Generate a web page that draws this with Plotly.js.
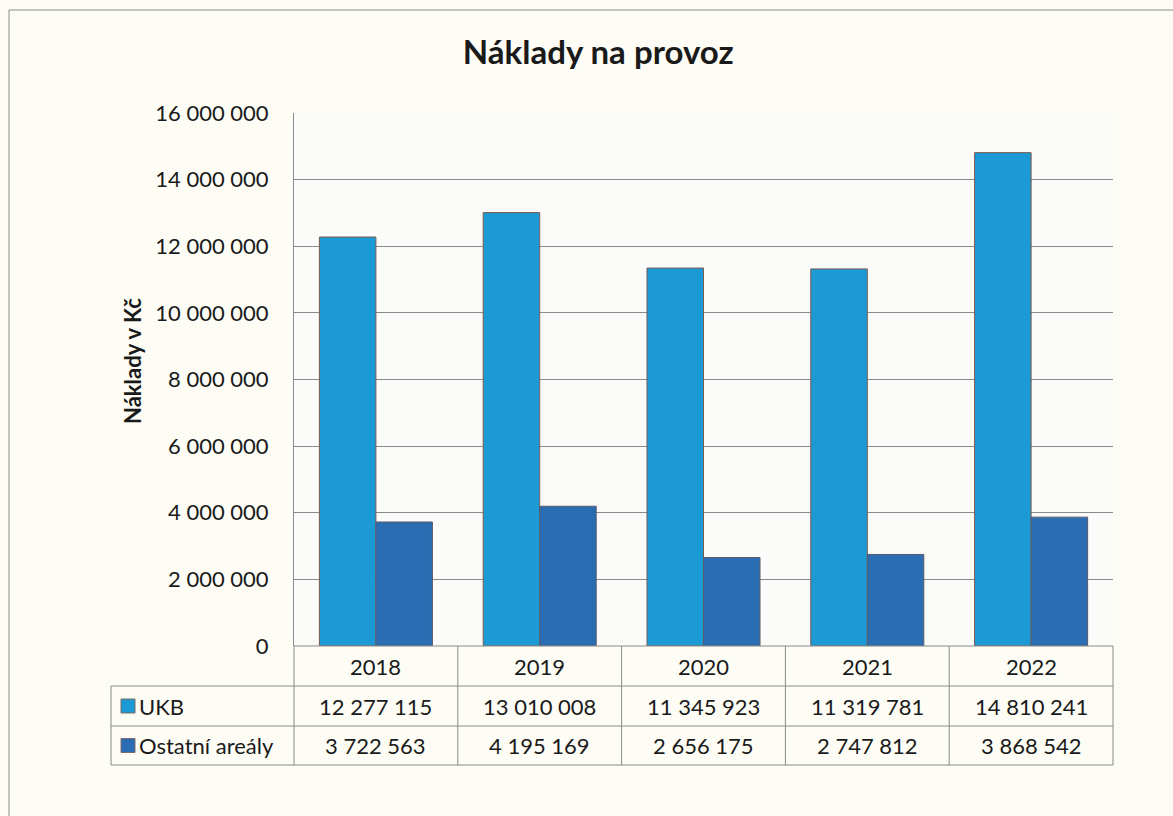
<!DOCTYPE html>
<html>
<head>
<meta charset="utf-8">
<script src="https://cdn.plot.ly/plotly-3.0.1.min.js"></script>
<style>html,body{margin:0;padding:0;background:#fdfdf6;}#chart{width:1173px;height:816px;}</style>
</head>
<body>
<div id="chart"></div>
<script>
// ---- data ----
var years = ['2018', '2019', '2020', '2021', '2022'];
var ukbValues = [12277115, 13010008, 11345923, 11319781, 14810241];
var ostatniValues = [3722563, 4195169, 2656175, 2747812, 3868542];
var seriesNames = ['UKB', 'Ostatní areály'];
var yTicks = [0, 2000000, 4000000, 6000000, 8000000, 10000000, 12000000, 14000000, 16000000];

// ---- style ----
var colUKB = '#1b9ad6';
var colOst = '#2a6db2';
var gridCol = '#8a8a8a';
var FONT = 'Lato, "Open Sans", sans-serif';

function fmt(n) {
  return String(n).replace(/\B(?=(\d{3})+(?!\d))/g, ' ');
}

// layout geometry (pixels)
var W = 1173, H = 816;
var L = 294, R = 1113, T = 113, B = 646;
var pw = R - L, ph = B - T;
function px(x) { return (x - L) / pw; }
function py(y) { return (B - y) / ph; }

var traces = [
  {type: 'bar', x: years, y: ukbValues, name: seriesNames[0],
   marker: {color: colUKB, line: {color: '#7d5a4e', width: 1}}},
  {type: 'bar', x: years, y: ostatniValues, name: seriesNames[1],
   marker: {color: colOst, line: {color: '#5a5a6a', width: 1}}}
];

var shapes = [];
var annotations = [];
var lineStyle = {color: gridCol, width: 1};

// outer frame
shapes.push({type: 'line', xref: 'paper', yref: 'paper', x0: px(9), x1: px(1173), y0: py(10), y1: py(10), line: lineStyle});
shapes.push({type: 'line', xref: 'paper', yref: 'paper', x0: px(9), x1: px(9), y0: py(10), y1: py(816), line: lineStyle});

// data table
var rowY = [646, 686, 726, 765];
shapes.push({type: 'line', xref: 'paper', yref: 'paper', x0: 0, x1: 1, y0: py(rowY[0]), y1: py(rowY[0]), line: lineStyle});
for (var r = 1; r < rowY.length; r++) {
  shapes.push({type: 'line', xref: 'paper', yref: 'paper', x0: px(111), x1: 1, y0: py(rowY[r]), y1: py(rowY[r]), line: lineStyle});
}
shapes.push({type: 'line', xref: 'paper', yref: 'paper', x0: px(111), x1: px(111), y0: py(rowY[1]), y1: py(rowY[3]), line: lineStyle});
for (var c = 0; c <= years.length; c++) {
  var xp = c / years.length;
  shapes.push({type: 'line', xref: 'paper', yref: 'paper', x0: xp, x1: xp, y0: py(rowY[0]), y1: py(rowY[3]), line: lineStyle});
}

var rowsVals = [ukbValues, ostatniValues];
var rowsCols = [colUKB, colOst];
var tf = {family: FONT, size: 22, color: '#1a1a1a'};
years.forEach(function (yr, i) {
  var xc = (i + 0.5) / years.length;
  annotations.push({xref: 'paper', yref: 'paper', x: xc, y: py((rowY[0] + rowY[1]) / 2), text: yr, showarrow: false, font: tf, xanchor: 'center', yanchor: 'middle'});
  rowsVals.forEach(function (vals, k) {
    annotations.push({xref: 'paper', yref: 'paper', x: xc, y: py((rowY[k + 1] + rowY[k + 2]) / 2), text: fmt(vals[i]), showarrow: false, font: tf, xanchor: 'center', yanchor: 'middle'});
  });
});
seriesNames.forEach(function (nm, k) {
  var cy = (rowY[k + 1] + rowY[k + 2]) / 2;
  shapes.push({type: 'rect', xref: 'paper', yref: 'paper', x0: px(121), x1: px(135), y0: py(cy - 7), y1: py(cy + 7), fillcolor: rowsCols[k], line: {color: '#7d6a6a', width: 1}});
  annotations.push({xref: 'paper', yref: 'paper', x: px(137), y: py(cy), text: nm, showarrow: false, font: tf, xanchor: 'left', yanchor: 'middle'});
});

// y axis title (placed as in the original, slightly above centre)
annotations.push({xref: 'paper', yref: 'paper', x: px(132), y: py(361), text: '<b>Náklady v Kč</b>', textangle: -90, showarrow: false,
                  font: {family: FONT, size: 22, color: '#1a1a1a'}, xanchor: 'center', yanchor: 'middle'});

var layout = {
  width: W, height: H,
  margin: {l: L, r: W - R, t: T, b: H - B, pad: 0},
  paper_bgcolor: '#fdfdf6',
  plot_bgcolor: '#fbfbf9',
  separators: ', ',
  showlegend: false,
  barmode: 'group',
  bargap: 0.31,
  bargroupgap: 0,
  title: {text: '<b>Náklady na provoz</b>', font: {family: FONT, size: 33, color: '#1a1a1a'}, x: 0.51, xanchor: 'center', y: 1 - 52 / H, yanchor: 'middle'},
  xaxis: {type: 'category', range: [-0.5, years.length - 0.5], showticklabels: false, ticks: '', showgrid: false, zeroline: false, showline: false, fixedrange: true},
  yaxis: {range: [0, 16000000], tickvals: yTicks, tickformat: ',d', showgrid: true, gridcolor: gridCol, gridwidth: 1,
          zeroline: false, showline: true, linecolor: gridCol, linewidth: 1, ticks: '', ticklabelstandoff: 20,
          tickfont: {family: FONT, size: 22, color: '#1a1a1a'}},
  shapes: shapes,
  annotations: annotations
};

Plotly.newPlot('chart', traces, layout, {displayModeBar: false, staticPlot: true});
</script>
</body>
</html>
